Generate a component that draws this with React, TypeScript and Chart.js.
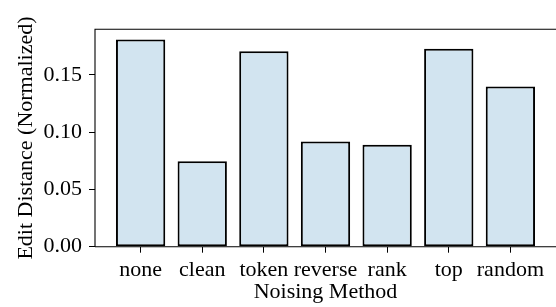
import React, { useEffect, useRef } from "react";
import { Chart, registerables } from "chart.js";

Chart.register(...registerables);

const categories = ["none", "clean", "token", "reverse", "rank", "top", "random"];
const editDistance = [0.1807, 0.0746, 0.1705, 0.0918, 0.0889, 0.1728, 0.1397];
const yTicks = [0, 0.05, 0.1, 0.15];

const spinePlugin = {
  id: "spines",
  afterDraw(chart: any) {
    const { ctx, chartArea } = chart;
    ctx.save();
    ctx.strokeStyle = "#000";
    ctx.lineWidth = 1.1;
    ctx.beginPath();
    ctx.moveTo(chartArea.left, chartArea.bottom);
    ctx.lineTo(chartArea.left, chartArea.top);
    ctx.lineTo(chartArea.right + 5, chartArea.top);
    ctx.moveTo(chartArea.left, chartArea.bottom);
    ctx.lineTo(chartArea.right + 5, chartArea.bottom);
    ctx.stroke();
    ctx.restore();
  },
};

export default function App() {
  const ref = useRef<HTMLCanvasElement | null>(null);
  useEffect(() => {
    document.body.style.margin = "0";
    const font = { family: "'Liberation Serif', serif", size: 22 };
    const chart = new Chart(ref.current as HTMLCanvasElement, {
      type: "bar",
      data: {
        datasets: [
          {
            data: categories.map((_, i) => ({ x: i, y: editDistance[i] })),
            backgroundColor: "#d2e4f0",
            borderColor: "#000",
            borderWidth: 2,
            borderSkipped: false,
            categoryPercentage: 0.8,
            barPercentage: 1,
          },
        ],
      },
      options: {
        animation: false,
        responsive: true,
        maintainAspectRatio: false,
        layout: { padding: { top: 29.3, right: -0.7, left: 0, bottom: 0 } },
        plugins: { legend: { display: false }, tooltip: { enabled: false } },
        scales: {
          x: {
            type: "linear",
            offset: false,
            min: -0.74,
            max: 6.74,
            afterBuildTicks: (scale: any) => {
              scale.ticks = categories.map((_, i) => ({ value: i }));
            },
            afterFit: (scale: any) => {
              scale.height = 60.3;
            },
            grid: { drawOnChartArea: false, drawTicks: true, tickLength: 6, color: "#000", lineWidth: 1, offset: false },
            border: { display: false },
            ticks: {
              autoSkip: false,
              maxRotation: 0,
              minRotation: 0,
              padding: 4,
              color: "#000",
              font,
              callback: (v: any) => categories[v as number],
            },
            title: { display: true, text: "Noising Method", color: "#000", font, padding: { top: 0, bottom: 2 } },
          },
          y: {
            min: 0,
            max: 0.1897,
            afterBuildTicks: (scale: any) => {
              scale.ticks = yTicks.map((v) => ({ value: v }));
            },
            afterFit: (scale: any) => {
              scale.width = 95;
            },
            grid: { drawOnChartArea: false, drawTicks: true, tickLength: 6, color: "#000", lineWidth: 1 },
            border: { display: false },
            ticks: {
              padding: 7,
              color: "#000",
              font,
              callback: (v: any) => Number(v).toFixed(2),
            },
            title: {
              display: true,
              text: "Edit Distance (Normalized)",
              color: "#000",
              font,
              padding: { top: 13, bottom: 0 },
            },
          },
        },
      },
      plugins: [spinePlugin],
    });
    return () => chart.destroy();
  }, []);
  return (
    <div style={{ position: "absolute", left: 0, top: 0, width: 556, height: 307 }}>
      <canvas ref={ref} />
    </div>
  );
}
